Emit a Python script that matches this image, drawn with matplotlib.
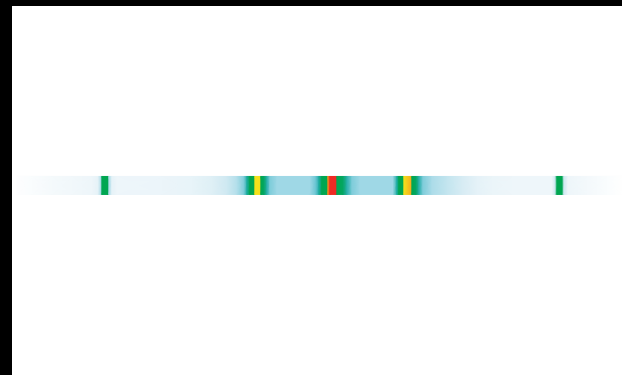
import numpy as np
import matplotlib
matplotlib.use('Agg')
import matplotlib.pyplot as plt
from matplotlib.colors import LinearSegmentedColormap

# sample positions along the strip and the intensity measured at each one
position = [5, 20, 40, 60, 80, 86, 89, 90, 96, 97, 100, 105, 150, 180, 200, 215,
            225, 232, 235, 238, 242, 243, 248, 249, 252, 255, 258, 265, 298, 304,
            307, 310, 315, 316, 318, 324, 325, 331, 335, 340, 348, 381, 385, 387,
            391, 392, 399, 400, 404, 407, 411, 420, 435, 450, 465, 480, 500, 540,
            543, 545, 550, 552, 556, 575, 595, 610]
intensity = [0.01, 0.03, 0.06, 0.08, 0.10, 0.15, 0.45, 0.80, 0.80, 0.45, 0.15,
             0.10, 0.11, 0.14, 0.20, 0.30, 0.42, 0.55, 0.70, 0.80, 0.80, 0.90,
             0.90, 0.80, 0.78, 0.68, 0.55, 0.50, 0.50, 0.58, 0.70, 0.80, 0.80,
             0.95, 1.00, 1.00, 0.80, 0.78, 0.68, 0.55, 0.50, 0.50, 0.70, 0.80,
             0.80, 0.90, 0.93, 0.80, 0.78, 0.68, 0.55, 0.45, 0.35, 0.25, 0.16,
             0.12, 0.10, 0.10, 0.30, 0.80, 0.80, 0.30, 0.10, 0.07, 0.03, 0.00]

cmap = LinearSegmentedColormap.from_list('strip', [
    (0.0, '#ffffff'), (0.1, '#eef6fa'), (0.3, '#cfe9f2'), (0.5, '#a0d8e6'),
    (0.62, '#4cbcc8'), (0.72, '#14a89a'), (0.8, '#00a651'), (0.9, '#f4e41c'),
    (0.95, '#f7941d'), (1.0, '#ee2a24')])

fig = plt.figure(figsize=(6.22, 3.75), dpi=100, facecolor='black')
ax = fig.add_axes([12 / 622, 0, 610 / 622, 369 / 375], facecolor='white')

values = np.array([intensity, intensity])
ax.pcolormesh(position, [0, 1], values, cmap=cmap, vmin=0, vmax=1,
              shading='gouraud')
ax.set_xlim(0, 610)
ax.set_ylim(-10.03, 10.47)
ax.set_axis_off()
ax.add_patch(plt.Rectangle((0, -10.03), 610, 20.5, color='white', zorder=-1))

fig.savefig('out.png', dpi=100, facecolor='black')
